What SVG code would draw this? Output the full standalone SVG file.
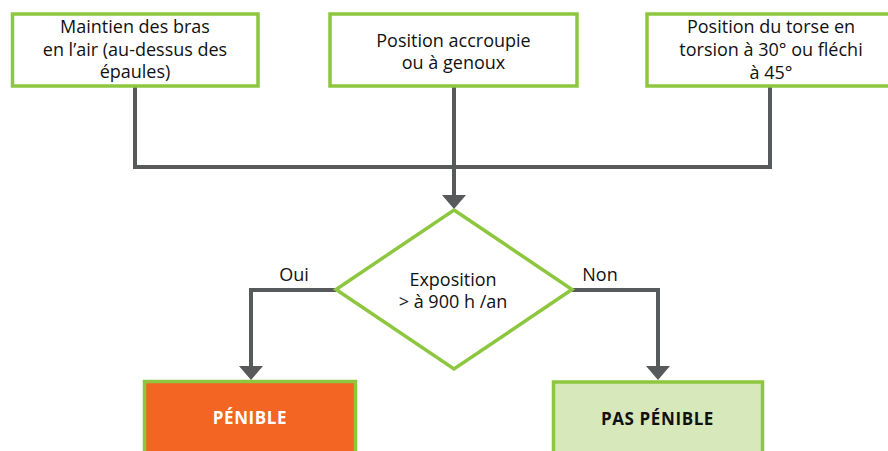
<svg xmlns="http://www.w3.org/2000/svg" width="888" height="451" viewBox="0 0 888 451">
<style>
.box{fill:#ffffff;stroke:#8dc63f;stroke-width:3.5}
.t{font-family:"Open Sans","Liberation Sans",sans-serif;font-size:18px;fill:#111111;text-anchor:middle}
.b{font-family:"Open Sans","Liberation Sans",sans-serif;font-size:17px;font-weight:bold;text-anchor:middle;letter-spacing:0.6px}
.ln{fill:none;stroke:#58595b;stroke-width:4}
.ah{fill:#58595b}
</style>
<rect width="888" height="451" fill="#ffffff"/>
<g id="connectors">
<path class="ln" d="M135 86 V167 H770 V86"/>
<path class="ln" d="M454 86 V196"/>
<polygon class="ah" points="442,195 466,195 454,209"/>
<path class="ln" d="M336 290 H251 V367"/>
<polygon class="ah" points="239,366 263,366 251,380"/>
<path class="ln" d="M572 290 H658 V367"/>
<polygon class="ah" points="646,366 670,366 658,380"/>
<text class="t" x="294" y="281">Oui</text>
<text class="t" x="600" y="281">Non</text>
</g>
<g id="n1">
<rect class="box" x="12.5" y="14" width="245.5" height="72"/>
<text class="t" x="135" y="33">Maintien des bras</text>
<text class="t" x="135" y="56">en l’air (au-dessus des</text>
<text class="t" x="135" y="78">épaules)</text>
</g>
<g id="n2">
<rect class="box" x="330" y="14" width="247" height="72"/>
<text class="t" x="453.5" y="47">Position accroupie</text>
<text class="t" x="453.5" y="69">ou à genoux</text>
</g>
<g id="n3">
<rect class="box" x="647" y="14" width="250" height="72"/>
<text class="t" x="771" y="33">Position du torse en</text>
<text class="t" x="771" y="56">torsion à 30° ou fléchi</text>
<text class="t" x="771" y="79">à 45°</text>
</g>
<g id="decision">
<polygon points="454,210 572,289.5 454,369 336,289.5" fill="#ffffff" stroke="#8dc63f" stroke-width="3.5"/>
<text class="t" x="453" y="286">Exposition</text>
<text class="t" x="453" y="308">&gt; à 900 h /an</text>
</g>
<g id="penible">
<rect x="144.5" y="381.5" width="211" height="80" fill="#f26522" stroke="#8dc63f" stroke-width="3.5"/>
<text class="b" x="250" y="424" fill="#ffffff">PÉNIBLE</text>
</g>
<g id="pas-penible">
<rect x="553.5" y="382" width="209" height="80" fill="#d7e8bb" stroke="#8dc63f" stroke-width="3.5"/>
<text class="b" x="657.5" y="425" fill="#111111">PAS PÉNIBLE</text>
</g>
</svg>
